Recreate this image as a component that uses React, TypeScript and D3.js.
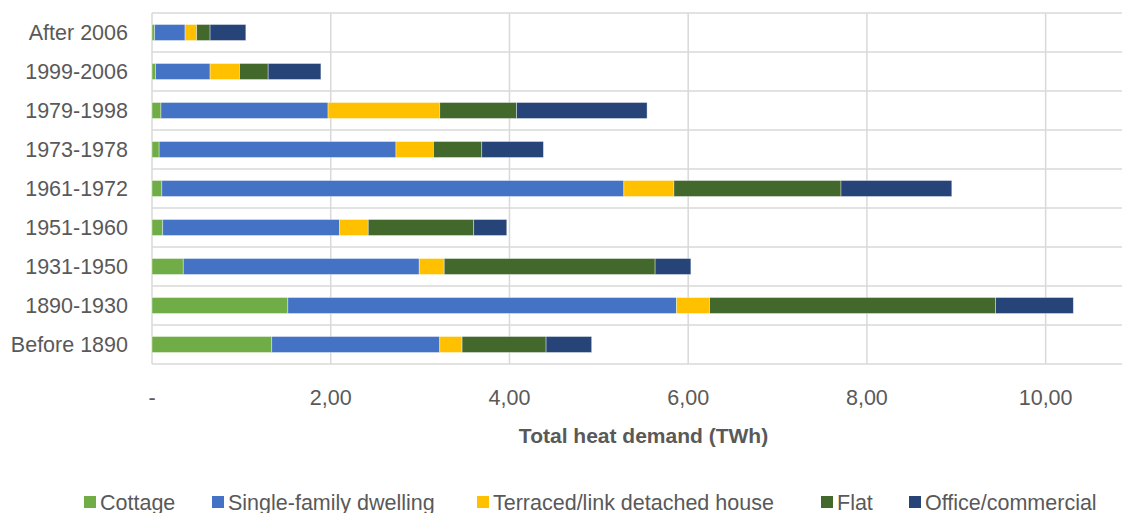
import React, { useEffect, useRef } from "react";
import * as d3 from "d3";

// 건축 연도 구간 (위에서 아래 순서)
const periods = [
  "After 2006",
  "1999-2006",
  "1979-1998",
  "1973-1978",
  "1961-1972",
  "1951-1960",
  "1931-1950",
  "1890-1930",
  "Before 1890",
];

// 건물 유형별 열수요 (TWh) - periods 순서와 동일
const cottage = [0.03, 0.04, 0.1, 0.08, 0.11, 0.12, 0.35, 1.52, 1.34];
const singleFamily = [0.34, 0.61, 1.87, 2.65, 5.17, 1.98, 2.64, 4.35, 1.88];
const terraced = [0.13, 0.33, 1.25, 0.42, 0.56, 0.32, 0.28, 0.37, 0.25];
const flat = [0.15, 0.32, 0.86, 0.54, 1.87, 1.18, 2.36, 3.2, 0.94];
const office = [0.4, 0.59, 1.46, 0.69, 1.24, 0.37, 0.4, 0.87, 0.51];

const seriesNames = [
  "Cottage",
  "Single-family dwelling",
  "Terraced/link detached house",
  "Flat",
  "Office/commercial",
];
const seriesColors = ["#70AD47", "#4472C4", "#FFC000", "#43682B", "#264478"];
const xTicks = [0, 2, 4, 6, 8, 10];

interface Row {
  period: string;
  [key: string]: number | string;
}

const App: React.FC = () => {
  const svgRef = useRef<SVGSVGElement>(null);
  const width = 1122;
  const height = 513;

  useEffect(() => {
    if (!svgRef.current) return;
    const svg = d3.select(svgRef.current);
    svg.selectAll("*").remove();

    const font = "'Liberation Sans', Arial, sans-serif";
    const textColor = "#595959";
    const gridColor = "#d9d9d9";

    const allSeries = [cottage, singleFamily, terraced, flat, office];
    const rows: Row[] = periods.map((p, i) => {
      const r: Row = { period: p };
      seriesNames.forEach((s, j) => (r[s] = allSeries[j][i]));
      return r;
    });

    const plot = { left: 152, right: 1135, top: 13, bottom: 364 };

    const x = d3.scaleLinear().domain([0, 11]).range([plot.left, plot.right]);
    const y = d3
      .scaleBand()
      .domain(periods)
      .range([plot.top, plot.bottom])
      .paddingInner(0.59)
      .paddingOuter(0.295);

    // 가로 그리드 (카테고리 경계)
    const step = (plot.bottom - plot.top) / periods.length;
    svg
      .append("g")
      .selectAll("line")
      .data(d3.range(periods.length + 1))
      .enter()
      .append("line")
      .attr("x1", plot.left)
      .attr("x2", width)
      .attr("y1", (d) => plot.top + d * step)
      .attr("y2", (d) => plot.top + d * step)
      .attr("stroke", gridColor)
      .attr("stroke-width", 1.5);

    // 세로 그리드
    svg
      .append("g")
      .selectAll("line")
      .data(xTicks)
      .enter()
      .append("line")
      .attr("x1", (d) => x(d))
      .attr("x2", (d) => x(d))
      .attr("y1", plot.top)
      .attr("y2", plot.bottom)
      .attr("stroke", gridColor)
      .attr("stroke-width", 1.5);

    // 누적 막대
    const stacked = d3.stack<Row>().keys(seriesNames)(rows);
    svg
      .append("g")
      .selectAll("g")
      .data(stacked)
      .enter()
      .append("g")
      .attr("fill", (_, i) => seriesColors[i])
      .selectAll("rect")
      .data((d) => d)
      .enter()
      .append("rect")
      .attr("x", (d) => x(d[0]))
      .attr("y", (d) => y(d.data.period) as number)
      .attr("width", (d) => x(d[1]) - x(d[0]))
      .attr("height", y.bandwidth())
      .attr("stroke", "#ffffff")
      .attr("stroke-opacity", 0.5)
      .attr("stroke-width", 0.75);

    // X축 눈금 레이블
    svg
      .append("g")
      .selectAll("text")
      .data(xTicks)
      .enter()
      .append("text")
      .attr("x", (d) => x(d))
      .attr("y", 405)
      .attr("text-anchor", "middle")
      .style("font-family", font)
      .style("font-size", "21.5px")
      .style("fill", textColor)
      .text((d) => (d === 0 ? "-" : d3.format(".2f")(d).replace(".", ",")));

    // X축 제목
    svg
      .append("text")
      .attr("x", (plot.left + plot.right) / 2)
      .attr("y", 443)
      .attr("text-anchor", "middle")
      .style("font-family", font)
      .style("font-size", "21px")
      .style("font-weight", "bold")
      .style("fill", textColor)
      .text("Total heat demand (TWh)");

    // Y축 레이블
    svg
      .append("g")
      .selectAll("text")
      .data(periods)
      .enter()
      .append("text")
      .attr("x", 128)
      .attr("y", (d) => (y(d) as number) + y.bandwidth() / 2 + 7.5)
      .attr("text-anchor", "end")
      .style("font-family", font)
      .style("font-size", "21.5px")
      .style("fill", textColor)
      .text((d) => d);

    // 범례
    const legendX = [84, 212, 477, 821, 909];
    const legend = svg
      .append("g")
      .selectAll("g")
      .data(seriesNames)
      .enter()
      .append("g")
      .attr("transform", (_, i) => `translate(${legendX[i]}, 502)`);

    legend
      .append("rect")
      .attr("x", 0)
      .attr("y", -6)
      .attr("width", 12)
      .attr("height", 12)
      .attr("fill", (_, i) => seriesColors[i]);

    legend
      .append("text")
      .attr("x", 16)
      .attr("y", 7.5)
      .style("font-family", font)
      .style("font-size", "21.5px")
      .style("fill", textColor)
      .text((d) => d);
  }, []);

  return (
    <svg
      ref={svgRef}
      width={width}
      height={height}
      style={{ position: "absolute", left: 0, top: 0, background: "#fff" }}
    />
  );
};

export default App;
